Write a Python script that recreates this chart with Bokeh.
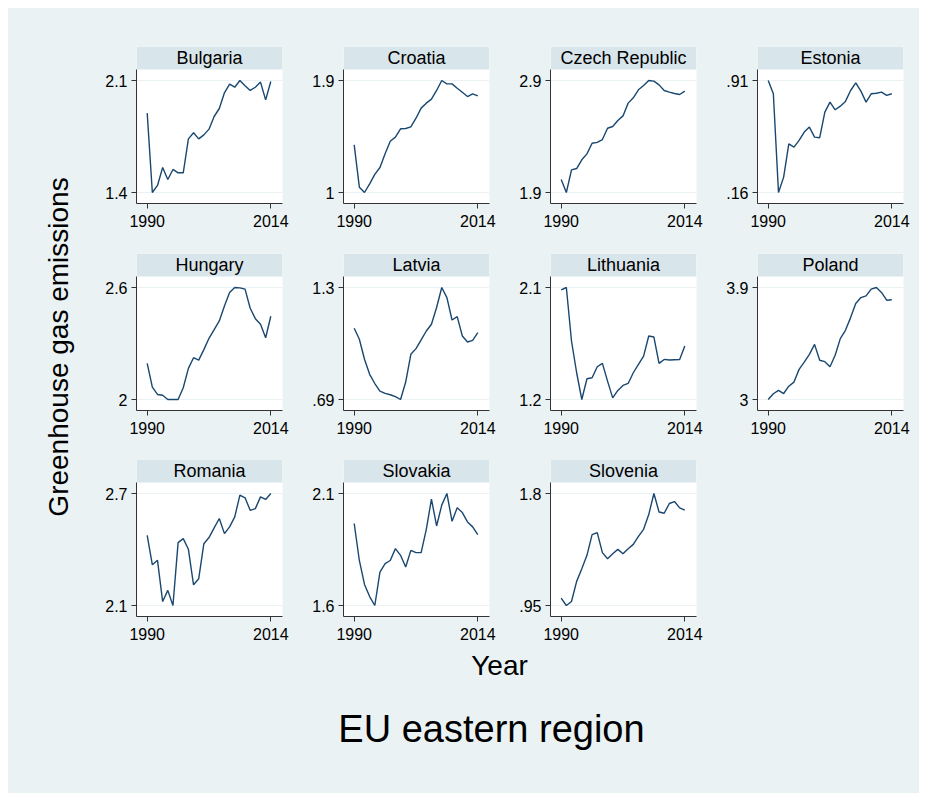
from math import pi
from bokeh.plotting import figure
from bokeh.models import Range1d, FixedTicker, Label, CustomJSTickFormatter, Spacer
from bokeh.layouts import row, column
from bokeh.embed import file_html
from bokeh.resources import INLINE

# ---------------- data ----------------
years = [1990, 1991, 1992, 1993, 1994, 1995, 1996, 1997, 1998, 1999, 2000, 2001, 2002,
         2003, 2004, 2005, 2006, 2007, 2008, 2009, 2010, 2011, 2012, 2013, 2014]

countries = ["Bulgaria", "Croatia", "Czech Republic", "Estonia", "Hungary", "Latvia",
             "Lithuania", "Poland", "Romania", "Slovakia", "Slovenia"]

bulgaria = [1.896, 1.400, 1.444, 1.556, 1.481, 1.544, 1.523, 1.523, 1.735, 1.773, 1.735, 1.760, 1.796,
            1.875, 1.925, 2.023, 2.077, 2.058, 2.100, 2.067, 2.038, 2.058, 2.090, 1.979, 2.094]
croatia = [1.383, 1.043, 1.000, 1.070, 1.145, 1.201, 1.311, 1.412, 1.445, 1.512, 1.514, 1.528, 1.597,
           1.678, 1.718, 1.750, 1.820, 1.900, 1.873, 1.873, 1.838, 1.806, 1.771, 1.793, 1.777]
czech = [2.016, 1.900, 2.102, 2.114, 2.192, 2.245, 2.340, 2.348, 2.373, 2.474, 2.489, 2.543, 2.584,
         2.698, 2.745, 2.817, 2.855, 2.900, 2.894, 2.861, 2.811, 2.796, 2.784, 2.775, 2.805]
estonia = [0.910, 0.821, 0.160, 0.263, 0.486, 0.464, 0.509, 0.565, 0.598, 0.531, 0.527, 0.698, 0.765,
           0.714, 0.738, 0.770, 0.843, 0.894, 0.839, 0.765, 0.821, 0.825, 0.832, 0.810, 0.821]
hungary = [2.193, 2.066, 2.027, 2.023, 2.000, 2.000, 2.000, 2.063, 2.167, 2.224, 2.211, 2.267, 2.328,
           2.374, 2.421, 2.501, 2.573, 2.600, 2.598, 2.591, 2.489, 2.433, 2.403, 2.331, 2.446]
latvia = [1.078, 1.018, 0.909, 0.827, 0.777, 0.736, 0.723, 0.716, 0.706, 0.690, 0.785, 0.936, 0.967,
          1.015, 1.063, 1.100, 1.191, 1.300, 1.245, 1.123, 1.141, 1.036, 1.003, 1.012, 1.054]
lithuania = [2.081, 2.100, 1.670, 1.415, 1.200, 1.367, 1.375, 1.463, 1.490, 1.348, 1.213, 1.273, 1.313,
             1.329, 1.415, 1.482, 1.549, 1.710, 1.702, 1.490, 1.522, 1.517, 1.520, 1.522, 1.630]
poland = [3.000, 3.046, 3.073, 3.048, 3.107, 3.140, 3.242, 3.301, 3.363, 3.443, 3.315, 3.304, 3.263,
          3.355, 3.489, 3.556, 3.658, 3.771, 3.819, 3.833, 3.887, 3.900, 3.860, 3.798, 3.801]
romania = [2.476, 2.318, 2.342, 2.121, 2.181, 2.100, 2.437, 2.458, 2.401, 2.211, 2.243, 2.431, 2.464,
           2.516, 2.566, 2.485, 2.521, 2.575, 2.691, 2.677, 2.610, 2.619, 2.682, 2.668, 2.700]
slovakia = [1.966, 1.801, 1.694, 1.640, 1.600, 1.749, 1.787, 1.801, 1.854, 1.824, 1.772, 1.846, 1.836,
            1.836, 1.940, 2.075, 1.955, 2.048, 2.100, 1.976, 2.036, 2.015, 1.973, 1.951, 1.916]
slovenia = [1.006, 0.950, 0.980, 1.133, 1.229, 1.331, 1.488, 1.503, 1.351, 1.305, 1.343, 1.376, 1.343,
            1.381, 1.414, 1.475, 1.528, 1.640, 1.800, 1.660, 1.650, 1.724, 1.739, 1.691, 1.673]

series = [bulgaria, croatia, czech, estonia, hungary, latvia, lithuania, poland, romania, slovakia, slovenia]

y_tick_values = [(1.4, 2.1), (1.0, 1.9), (1.9, 2.9), (0.16, 0.91), (2.0, 2.6), (0.69, 1.3),
                 (1.2, 2.1), (3.0, 3.9), (2.1, 2.7), (1.6, 2.1), (0.95, 1.8)]
y_tick_labels = [("1.4", "2.1"), ("1", "1.9"), ("1.9", "2.9"), (".16", ".91"), ("2", "2.6"), (".69", "1.3"),
                 ("1.2", "2.1"), ("3", "3.9"), ("2.1", "2.7"), ("1.6", "2.1"), (".95", "1.8")]
x_tick_values = [1990, 2014]

y_title = "Greenhouse gas emissions"
x_title = "Year"
note_title = "EU eastern region"

# ---------------- style ----------------
BG = "#EAF2F3"
STRIP = "#D8E5EB"
LINE = "#1A476F"
AXIS = "#333333"
FONT = "Liberation Sans"
BGSTYLE = {"background-color": BG}

FRAME_W, PLOT_H, STRIP_H = 146, 134, 23
X_LO = x_tick_values[0] - 24 * 10.7 / 123.6
X_HI = x_tick_values[1] + 24 * 11.7 / 123.6
ROW_TOP = [38, 20, 19]
COL_RIGHT = [13, 13, 13, 16]


def make_panel(name, vals, ticks, labels, top_border, right_border):
    t0, t1 = ticks
    pad = (t1 - t0) * 11 / 112
    y_lo, y_hi = t0 - pad, t1 + pad
    y_top = y_hi + (y_hi - y_lo) * STRIP_H / PLOT_H
    p = figure(frame_width=FRAME_W, frame_height=PLOT_H + STRIP_H,
               x_range=Range1d(X_LO, X_HI), y_range=Range1d(y_lo, y_top),
               min_border_left=48, min_border_right=right_border,
               min_border_top=top_border, min_border_bottom=30,
               toolbar_location=None, output_backend="svg",
               background_fill_color="white", border_fill_color=BG,
               outline_line_color=None)
    # strip (by-title box)
    p.quad(left=[X_LO], right=[X_HI], bottom=[y_hi], top=[y_top],
           fill_color=STRIP, line_color=None)
    p.line(years, vals, line_color=LINE, line_width=1.4)
    p.add_layout(Label(x=(X_LO + X_HI) / 2, y=(y_hi + y_top) / 2, text=name,
                       text_align="center", text_baseline="middle",
                       text_font=FONT, text_font_size="18px", text_color="black"))
    fmt = CustomJSTickFormatter(args=dict(vals=list(ticks), labs=list(labels)), code="""
        for (let i = 0; i < vals.length; i++) {
            if (Math.abs(vals[i] - tick) < 1e-9) { return labs[i]; }
        }
        return "";
    """)
    p.yaxis.ticker = FixedTicker(ticks=list(ticks))
    p.yaxis.formatter = fmt
    p.yaxis.bounds = (y_lo, y_hi)
    p.xaxis.ticker = FixedTicker(ticks=x_tick_values)
    p.ygrid.ticker = FixedTicker(ticks=list(ticks))
    p.ygrid.grid_line_color = BG
    p.ygrid.grid_line_width = 1.2
    p.xgrid.visible = False
    for ax in (p.xaxis, p.yaxis):
        ax.axis_line_color = AXIS
        ax.axis_line_width = 1
        ax.major_tick_line_color = AXIS
        ax.major_tick_out = 5
        ax.major_tick_in = 0
        ax.minor_tick_line_color = None
        ax.major_label_text_font = FONT
        ax.major_label_text_font_size = "16px"
        ax.major_label_text_color = "black"
    p.yaxis.major_label_standoff = 4
    p.xaxis.major_label_standoff = 6
    return p


def text_fig(w, h):
    p = figure(width=w, height=h, x_range=Range1d(0, w), y_range=Range1d(0, h),
               x_axis_location=None, y_axis_location=None, min_border=0,
               toolbar_location=None, output_backend="svg",
               background_fill_color=BG, border_fill_color=BG, outline_line_color=None)
    p.grid.visible = False
    return p


rows = []
for r in range(3):
    cells = []
    for c in range(4):
        i = r * 4 + c
        if i < len(countries):
            cells.append(make_panel(countries[i], series[i], y_tick_values[i], y_tick_labels[i],
                                    ROW_TOP[r], COL_RIGHT[c]))
        else:
            cells.append(text_fig(48 + FRAME_W + COL_RIGHT[c], ROW_TOP[r] + PLOT_H + STRIP_H + 30))
    rows.append(row(*cells, spacing=0, styles=BGSTYLE))
grid = column(*rows, spacing=0, styles=BGSTYLE)

ytf = text_fig(80, 638)
ytf.add_layout(Label(x=50, y=638 - 338.5, text=y_title, angle=pi / 2,
                     text_align="center", text_baseline="middle",
                     text_font=FONT, text_font_size="28px", text_color="black"))

xtf = text_fig(911, 49)
xtf.add_layout(Label(x=491, y=49 - 19, text=x_title, text_align="center", text_baseline="middle",
                     text_font=FONT, text_font_size="28px", text_color="black"))

ntf = text_fig(911, 98)
ntf.add_layout(Label(x=483, y=98 - 33, text=note_title, text_align="center", text_baseline="middle",
                     text_font=FONT, text_font_size="38px", text_color="black"))

page = column(row(ytf, grid, spacing=0, styles=BGSTYLE), xtf, ntf, spacing=0, styles=BGSTYLE)

outer = column(Spacer(height=8), row(Spacer(width=8), page, spacing=0), spacing=0)

open("out.html", "w").write(file_html(outer, INLINE))
